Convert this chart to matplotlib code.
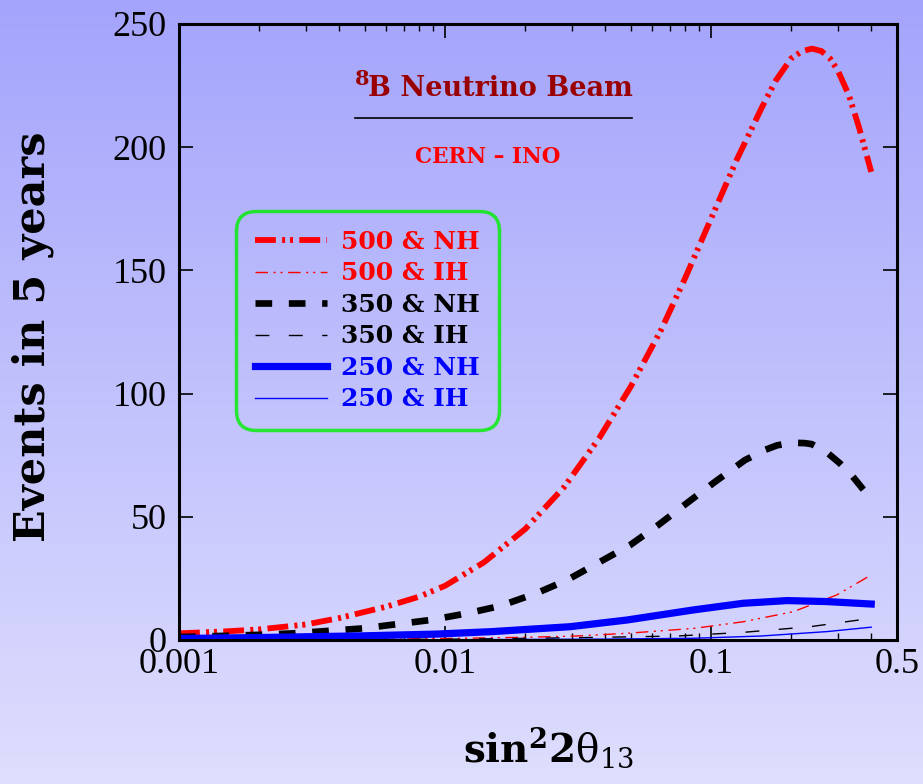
import numpy as np
import matplotlib
matplotlib.use("Agg")
import matplotlib.pyplot as plt
from matplotlib.ticker import FixedLocator, FixedFormatter, LogLocator, NullFormatter

plt.rcParams['mathtext.fontset'] = 'dejavuserif'
plt.rcParams['lines.scale_dashes'] = False

# ---- data ----
x_500nh = [0.001, 0.0015, 0.002, 0.003, 0.004, 0.006, 0.008, 0.01, 0.014, 0.02, 0.028, 0.038,
           0.05, 0.065, 0.08, 0.1, 0.125, 0.155, 0.175, 0.2, 0.22, 0.24, 0.26, 0.28, 0.3,
           0.33, 0.36, 0.4]
y_500nh = [2.7, 3.5, 4.3, 6.3, 8.9, 13.5, 17.6, 22, 31.5, 45, 62, 82,
           103, 126, 147, 171, 195, 216, 227, 236, 239, 240, 239, 236, 231,
           221, 208, 190]

x_500ih = [0.001, 0.005, 0.01, 0.02, 0.031, 0.048, 0.086, 0.132, 0.204, 0.297, 0.4]
y_500ih = [0.1, 0.3, 0.6, 1.1, 1.6, 2.7, 4.7, 7.4, 11.5, 18.3, 26.4]

x_350nh = [0.001, 0.0015, 0.002, 0.0027, 0.0049, 0.0088, 0.0121, 0.0161, 0.0221, 0.0287,
           0.0372, 0.0496, 0.0634, 0.081, 0.1035, 0.134, 0.16, 0.177, 0.195, 0.21, 0.225,
           0.239, 0.27, 0.305, 0.34, 0.379, 0.4]
y_350nh = [1.2, 1.7, 2.1, 2.7, 4.7, 8.1, 10.8, 13.8, 19, 24.3,
           31, 38.5, 46.7, 55.5, 64.2, 73, 77.2, 79, 79.8, 80, 79.9,
           79.5, 76.5, 71.7, 66.5, 60.2, 56.8]

x_350ih = [0.001, 0.01, 0.03, 0.074, 0.132, 0.236, 0.4]
y_350ih = [0.05, 0.3, 0.9, 1.6, 3.1, 5.4, 8.8]

x_250nh = [0.001, 0.002, 0.005, 0.0093, 0.015, 0.0295, 0.0482, 0.0858, 0.132, 0.193, 0.272, 0.4]
y_250nh = [0.6, 1.0, 1.7, 2.4, 3.4, 5.4, 8.1, 12.2, 14.9, 16, 15.6, 14.6]

x_250ih = [0.001, 0.01, 0.04, 0.086, 0.153, 0.272, 0.4]
y_250ih = [0.02, 0.1, 0.35, 0.7, 1.6, 3.4, 5.2]

labels = ["500 & NH", "500 & IH", "350 & NH", "350 & IH", "250 & NH", "250 & IH"]
xtick_vals = [0.001, 0.01, 0.1, 0.5]
xtick_labels = ["0.001", "0.01", "0.1", "0.5"]
ytick_vals = [0, 50, 100, 150, 200, 250]

W, H = 923, 784
fig = plt.figure(figsize=(W / 100, H / 100), dpi=100)

# background gradient
bg = fig.add_axes([0, 0, 1, 1], zorder=-10)
top = np.array([164, 164, 252]) / 255.0
bot = np.array([222, 222, 254]) / 255.0
t = np.linspace(0, 1, 256)[:, None, None]
grad = top * (1 - t) + bot * t
grad = np.repeat(grad, 2, axis=1)
bg.imshow(grad, aspect='auto', extent=[0, 1, 0, 1], origin='upper')
bg.set_axis_off()

ax = fig.add_axes([179 / W, 1 - 640 / H, (897 - 179) / W, (640 - 24) / H])
ax.patch.set_alpha(0)

lines = []
l, = ax.plot(x_500nh, y_500nh, color='#ff0000', lw=4.2, dash_capstyle='butt')
l.set_dashes([15, 4.5, 2.2, 3.5, 2.2, 4.5]); lines.append(l)
l, = ax.plot(x_500ih, y_500ih, color='#ff0000', lw=1.0)
l.set_dashes([9, 4, 1.5, 3.5, 1.5, 4]); lines.append(l)
l, = ax.plot(x_350nh, y_350nh, color='black', lw=4.8, dash_capstyle='butt')
l.set_dashes([12, 12]); lines.append(l)
l, = ax.plot(x_350ih, y_350ih, color='black', lw=1.0)
l.set_dashes([10, 14]); lines.append(l)
l, = ax.plot(x_250nh, y_250nh, color='#0000ff', lw=5.2); lines.append(l)
l, = ax.plot(x_250ih, y_250ih, color='#0000ff', lw=1.0); lines.append(l)

ax.set_xscale('log')
ax.set_xlim(0.001, 0.5)
ax.set_ylim(0, 250)
ax.xaxis.set_major_locator(FixedLocator(xtick_vals))
ax.xaxis.set_major_formatter(FixedFormatter(xtick_labels))
ax.xaxis.set_minor_locator(LogLocator(base=10, subs=np.arange(2, 10)))
ax.xaxis.set_minor_formatter(NullFormatter())
ax.set_yticks(ytick_vals)

for s in ax.spines.values():
    s.set_linewidth(2.2)

ax.tick_params(which='major', direction='in', length=10, width=1.2, top=True, right=True,
               labelsize=26, pad=9)
ax.tick_params(which='minor', direction='in', length=5, width=1.0, top=True, right=True)
ax.tick_params(axis='x', which='major', pad=6)
for lab in ax.get_xticklabels() + ax.get_yticklabels():
    lab.set_family('Liberation Serif')

leg = ax.legend(lines, labels, loc='upper left', bbox_to_anchor=(57 / 718, (640 - 211) / 616),
                prop=dict(family='DejaVu Serif', weight='bold', size=18),
                handlelength=2.9, handletextpad=0.55, labelspacing=0.3,
                borderpad=0.75, borderaxespad=0.0, fancybox=True, frameon=True)
fr = leg.get_frame()
fr.set_facecolor('none')
fr.set_edgecolor('#00ee00')
fr.set_linewidth(2.5)
fr.set_boxstyle('round', pad=0.0, rounding_size=0.8)
cols = ['#ff0000', '#ff0000', 'black', 'black', '#0000ff', '#0000ff']
for txt, c in zip(leg.get_texts(), cols):
    txt.set_color(c)

# annotations
fig.text(362 / W, 1 - 79 / H, "8", family='DejaVu Serif', weight='bold', size=15,
         color='#990000', ha='center', va='center')
fig.text(500 / W, 1 - 88 / H, "B Neutrino Beam", family='DejaVu Serif', weight='bold', size=19.5,
         color='#990000', ha='center', va='center')
fig.add_artist(plt.Line2D([355 / W, 632 / W], [1 - 118 / H, 1 - 118 / H], color='black', lw=1.2))
fig.text(488 / W, 1 - 157 / H, "CERN – INO", family='DejaVu Serif', weight='bold', size=15.5,
         color='#ff0000', ha='center', va='center')

fig.text(33 / W, 1 - 337 / H, "Events in 5 years", family='DejaVu Serif', weight='bold', size=31,
         rotation=90, ha='center', va='center')
fig.text(548 / W, 1 - 748 / H, r'$\mathbf{sin}^{\mathbf{2}}\mathbf{2}\mathrm{\theta}_{13}$', size=28,
         ha='center', va='center')

fig.savefig("out.png", dpi=100)
